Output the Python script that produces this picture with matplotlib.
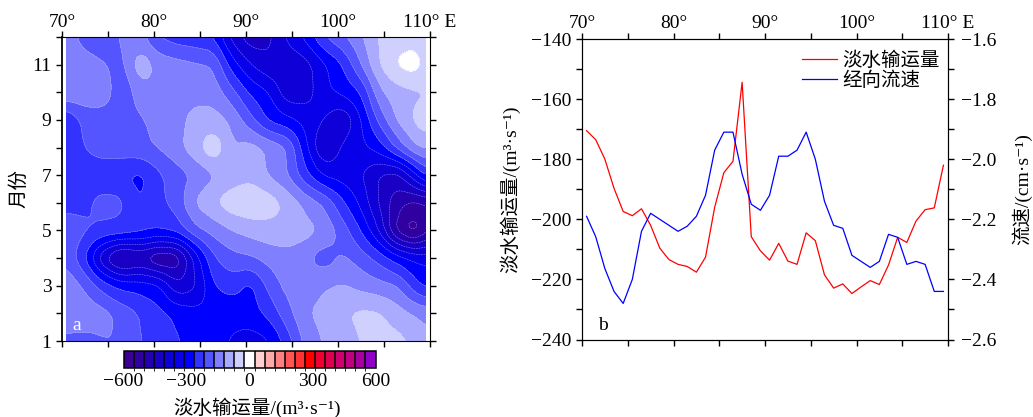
# -*- coding: utf-8 -*-
import numpy as np
import matplotlib as mpl
mpl.use("Agg")
mpl.rcParams["font.family"] = ["Liberation Serif", "Noto Sans CJK SC", "DejaVu Serif"]
mpl.rcParams["font.size"] = 14
import matplotlib.pyplot as plt
from matplotlib.colors import ListedColormap, BoundaryNorm
from matplotlib.ticker import MultipleLocator, FixedLocator

# panel a: freshwater transport, rows are months 1-12
grid_lon = [70.5, 72.5, 74.5, 76.5, 78.5, 80.5, 82.5, 84.5, 86.5, 88.5, 90.5,
            92.5, 94.5, 96.5, 98.5, 100.5, 102.5, 104.5, 106.5, 108.5, 109.5]
months = [1, 2, 3, 4, 5, 6, 7, 8, 9, 10, 11, 12]
m01 = [-180, -185, -170, -168, -216, -235, -260, -280, -300, -315, -335, -318, -240, -150, -115, -95, -70, -55, -55, -90, -105]
m02 = [-135, -135, -150, -185, -220, -250, -275, -295, -305, -300, -285, -250, -185, -125, -105, -80, -60, -65, -100, -125, -135]
m03 = [-135, -175, -240, -280, -285, -300, -400, -370, -265, -240, -280, -200, -150, -140, -125, -115, -135, -150, -165, -250, -275]
m04 = [-180, -260, -410, -500, -460, -510, -500, -340, -220, -185, -175, -150, -140, -160, -195, -160, -190, -235, -290, -325, -330]
m05 = [-185, -210, -225, -230, -245, -262, -245, -180, -150, -120, -100, -90, -85, -100, -130, -190, -265, -365, -530, -590, -510]
m06 = [-235, -225, -200, -205, -272, -230, -195, -115, -75, -40, -30, -45, -85, -135, -175, -255, -325, -415, -490, -520, -505]
m07 = [-230, -240, -245, -258, -278, -225, -190, -160, -125, -100, -85, -125, -165, -250, -320, -335, -355, -415, -430, -320, -250]
m08 = [-245, -215, -195, -190, -180, -165, -135, -90, -30, -120, -100, -130, -165, -300, -420, -350, -325, -290, -200, -120, -110]
m09 = [-260, -200, -195, -190, -175, -150, -135, -105, -100, -130, -200, -275, -300, -330, -360, -408, -315, -200, -110, -60, -40]
m10 = [-125, -130, -135, -210, -140, -130, -135, -135, -140, -200, -275, -310, -395, -385, -325, -300, -265, -130, -90, -80, -75]
m11 = [-135, -145, -165, -185, -85, -135, -150, -160, -170, -290, -360, -400, -400, -380, -320, -264, -168, -70, -15, 0, -40]
m12 = [-140, -190, -200, -160, -150, -220, -240, -250, -265, -380, -440, -420, -350, -300, -215, -175, -125, -65, -45, -40, -60]

band_colors = ["#3c0096", "#3000a0", "#2400b0", "#1a00c4", "#1000d8", "#0800e8", "#0000ff",
               "#3333ff", "#5555ff", "#8080ff", "#aaaaff", "#d0d0ff", "#ffffff",
               "#ffd0d0", "#ffaaaa", "#ff8080", "#ff5555", "#ff3333", "#ff0000",
               "#f00030", "#e00050", "#d00070", "#c00080", "#a800a0", "#9000c8"]
cbar_ticks = [-600, -300, 0, 300, 600]

# panel b: annual means along the section
line_lon = np.arange(70.5, 110, 1.0)
transport = [-170.5, -173.5, -180, -189.7, -197.4, -198.8, -196.5, -202, -209.6, -213.4,
             -215, -215.7, -217.6, -212.6, -196, -184.5, -180.7, -154.4, -205.8, -210.5,
             -213.6, -208, -213.9, -215, -204.5, -207.1, -218.5, -222.9, -221.5, -224.7,
             -222.5, -220.4, -221.7, -215.2, -206, -207.7, -200.6, -196.8, -196.2, -182]
velocity = [-2.19, -2.258, -2.364, -2.44, -2.48, -2.40, -2.24, -2.18, -2.2, -2.22,
            -2.24, -2.223, -2.19, -2.12, -1.97, -1.91, -1.91, -2.05, -2.15, -2.17,
            -2.12, -1.99, -1.99, -1.97, -1.91, -2.0, -2.14, -2.22, -2.23, -2.32,
            -2.34, -2.36, -2.34, -2.25, -2.26, -2.35, -2.34, -2.35, -2.44, -2.44]
lon_ticks = [70, 80, 90, 100, 110]
lon_labels = ["70°", "80°", "90°", "100°", "110° E"]

W, H = 1033, 417


def axes_px(x0, y0, x1, y1):
    # pixel box from the top left corner to figure fractions
    return [x0 / W, 1 - y1 / H, (x1 - x0) / W, (y1 - y0) / H]


def style_lon(ax, pad):
    ax.set_xlim(70, 110)
    ax.xaxis.set_major_locator(FixedLocator(lon_ticks))
    ax.xaxis.set_minor_locator(MultipleLocator(5))
    ax.set_xticklabels(lon_labels)
    ax.tick_params(axis="x", which="both", direction="out", top=True, bottom=True,
                   labeltop=True, labelbottom=False, length=4, width=1, pad=pad)


def smooth_field(x, y, z, dx=0.25, dy=0.125, nx=7, ny=5):
    # finer mesh with a box blur, only so the filled contours are not angular
    xf = np.arange(x[0], x[-1] + dx / 2, dx)
    yf = np.arange(y[0], y[-1] + dy / 2, dy)
    zx = np.array([np.interp(xf, x, row) for row in z])
    zf = np.array([np.interp(yf, y, col) for col in zx.T]).T
    for axis, n in ((1, nx), (0, ny)):
        pad_width = [(0, 0), (0, 0)]
        pad_width[axis] = (n // 2, n // 2)
        zp = np.pad(zf, pad_width, mode="edge")
        zf = np.apply_along_axis(lambda v: np.convolve(v, np.ones(n) / n, mode="valid"), axis, zp)
    return xf, yf, zf


fig = plt.figure(figsize=(W / 100, H / 100), dpi=100)

# panel a
ax1 = fig.add_axes(axes_px(62, 37, 430, 341))
Z = np.array([m01, m02, m03, m04, m05, m06, m07, m08, m09, m10, m11, m12], dtype=float)
xf, yf, Zf = smooth_field(grid_lon, months, Z)
levels = np.linspace(-600, 600, 26)
cmap = ListedColormap(band_colors)
norm = BoundaryNorm(levels, cmap.N)
cf = ax1.contourf(xf, yf, Zf, levels=levels, cmap=cmap, norm=norm)
ax1.contour(xf, yf, Zf, levels=levels, colors="#c8c8ff", linewidths=0.35, alpha=0.7)
style_lon(ax1, 0.5)
ax1.set_ylim(1, 12)
ax1.yaxis.set_major_locator(FixedLocator([1, 3, 5, 7, 9, 11]))
ax1.yaxis.set_minor_locator(MultipleLocator(1))
ax1.tick_params(axis="y", which="both", direction="out", left=True, right=True, length=4, width=1, pad=3.5)
ax1.spines["left"].set_linewidth(1.3)
ax1.set_ylabel("月份", fontsize=14, labelpad=3)
ax1.text(71.1, 1.55, "a", color="white", fontsize=14, ha="left", va="center")

# colour bar
cax = fig.add_axes(axes_px(123.5, 351, 375.5, 367.5))
cb = fig.colorbar(cf, cax=cax, orientation="horizontal", drawedges=True, spacing="proportional")
cb.set_ticks(cbar_ticks)
cb.ax.tick_params(length=0, pad=4, labelsize=14)
cb.dividers.set_color("black")
cb.dividers.set_linewidth(1.1)
cb.outline.set_linewidth(1.1)
fig.text(257 / W, 1 - 408 / H, "淡水输运量/(m³·s⁻¹)", fontsize=14, ha="center", va="center")

# panel b
ax2 = fig.add_axes(axes_px(582, 39, 948, 339.5))
ax2.plot(line_lon, transport, color="red", lw=0.9, label="淡水输运量")
style_lon(ax2, 1)
ax2.set_ylim(-240, -140)
ax2.yaxis.set_major_locator(MultipleLocator(20))
ax2.yaxis.set_minor_locator(MultipleLocator(10))
ax2.tick_params(axis="y", which="both", direction="out", length=4, width=1, pad=3.5)
ax2.set_ylabel("淡水输运量/(m³·s⁻¹)", fontsize=14, labelpad=8)
ax2.text(71.8, -235.5, "b", fontsize=14, ha="left", va="center")

ax3 = ax2.twinx()
ax3.plot(line_lon, velocity, color="blue", lw=0.9, label="经向流速")
ax3.set_ylim(-2.6, -1.6)
ax3.yaxis.set_major_locator(MultipleLocator(0.2))
ax3.yaxis.set_minor_locator(MultipleLocator(0.1))
ax3.yaxis.set_major_formatter(lambda v, pos: "\u2212%.1f" % abs(v))
ax3.tick_params(axis="y", which="both", direction="out", length=4, width=1, pad=5)
ax3.set_ylabel("流速/(cm·s⁻¹)", fontsize=14, labelpad=11)

h1, l1 = ax2.get_legend_handles_labels()
h2, l2 = ax3.get_legend_handles_labels()
ax3.legend(h1 + h2, l1 + l2, loc="upper right", bbox_to_anchor=(0.9995, 0.985), frameon=False,
           fontsize=14, handlelength=1.8, handletextpad=0.3, labelspacing=0.1,
           borderaxespad=0.2, borderpad=0.2)

fig.savefig("out.png", dpi=100)
